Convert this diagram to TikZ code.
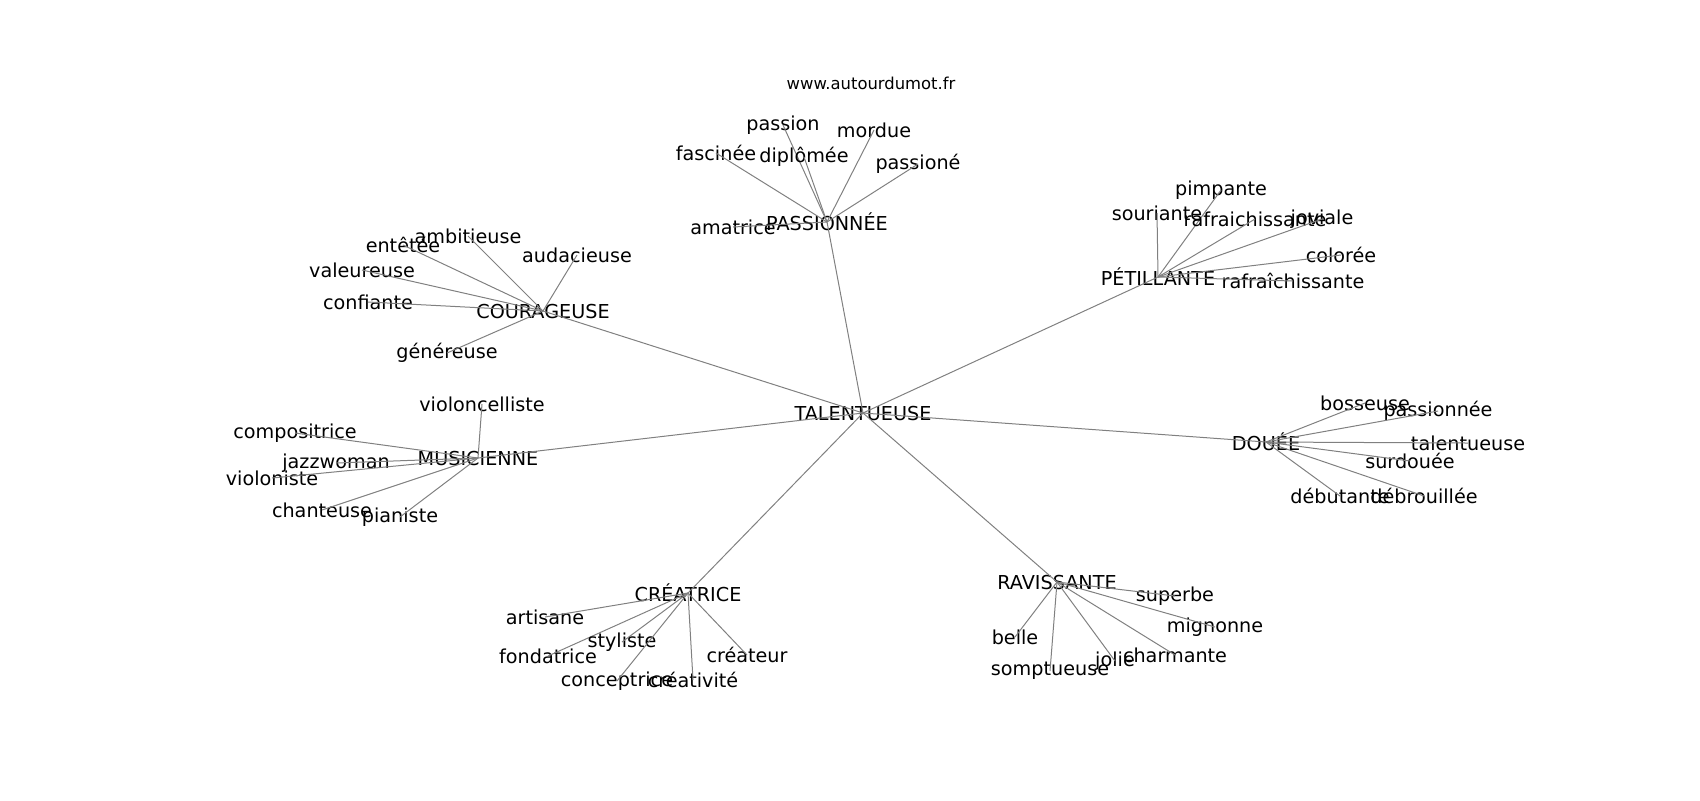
\documentclass[tikz,border=0pt]{standalone}
\usepackage{fontspec}
\setmainfont{DejaVu Sans}
\definecolor{arete}{RGB}{128,128,128}

\begin{document}
\begin{tikzpicture}[x=0.5pt, y=-0.5pt,
		mot/.style={inner sep=0pt, font=\fontsize{9.6}{11}\selectfont},
		arc/.style={draw=arete, line width=0.5pt}]
			\useasboundingbox (0,0) rectangle (1700,800);

			\node[mot, font=\fontsize{8.2}{10}\selectfont] (site) at (871,83) {www.autourdumot.fr};

			% centre
			\node[mot] (tal) at (863,413) {TALENTUEUSE};

			% groupes
			\foreach \g/\x/\y/\t in {pas/827/222/PASSIONNÉE, pet/1158/277/PÉTILLANTE,
				cou/543/311/COURAGEUSE, mus/478/458/MUSICIENNE, dou/1266/442/DOUÉE,
				cre/688/593/CRÉATRICE, rav/1057/582/RAVISSANTE} {
				\node[mot] (\g) at (\x,\y) {\t};
				\draw[arc] (tal.center) -- (\g.center);
			}

			% mots
			\foreach \g/\n/\x/\y/\t in {
				pas/pa1/783/125/passion, pas/pa2/874/130/mordue, pas/pa3/716/153/fascinée,
				pas/pa4/804/157/diplômée, pas/pa5/918/164/passioné, pas/pa6/733/227/amatrice,
				pet/pe1/1221/190/pimpante, pet/pe2/1157/213/souriante, pet/pe3/1255/219/rafraichissante,
				pet/pe4/1322/219/joviale, pet/pe5/1341/255/colorée, pet/pe6/1293/281/rafraîchissante,
				cou/co1/468/236/ambitieuse, cou/co2/403/245/entêtée, cou/co3/577/255/audacieuse,
				cou/co4/362/270/valeureuse, cou/co5/368/302/confiante, cou/co6/447/353/généreuse,
				mus/mu1/482/404/violoncelliste, mus/mu2/295/433/compositrice, mus/mu3/336/463/jazzwoman,
				mus/mu4/272/478/violoniste, mus/mu5/322/510/chanteuse, mus/mu6/400/517/pianiste,
				dou/do1/1365/403/bosseuse, dou/do2/1438/411/passionnée, dou/do3/1468/443/talentueuse,
				dou/do4/1410/461/surdouée, dou/do5/1424/496/débrouillée, dou/do6/1340/496/débutante,
				cre/cr1/545/617/artisane, cre/cr2/548/656/fondatrice, cre/cr3/622/642/styliste,
				cre/cr4/617/681/conceptrice, cre/cr5/693/680/créativité, cre/cr6/747/655/créateur,
				rav/ra1/1175/596/superbe, rav/ra2/1215/627/mignonne, rav/ra3/1015/637/belle,
				rav/ra4/1050/671/somptueuse, rav/ra5/1115/661/jolie, rav/ra6/1175/655/charmante} {
				\node[mot] (\n) at (\x,\y) {\t};
				\draw[arc] (\g.center) -- (\n.center);
			}
		\end{tikzpicture}
\end{document}
